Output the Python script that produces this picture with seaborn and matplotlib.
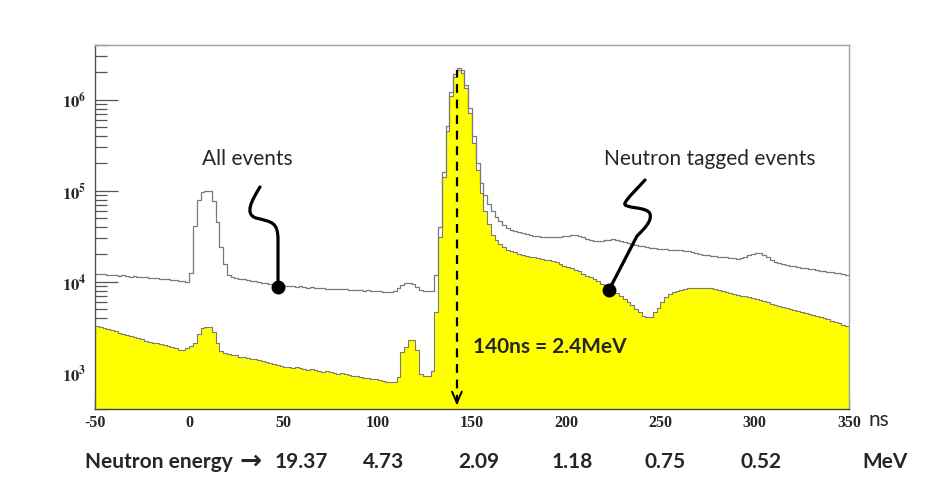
"""Time-of-flight spectrum: all events vs neutron tagged events."""

import matplotlib
matplotlib.use("Agg")
import matplotlib.pyplot as plt
from matplotlib.path import Path
from matplotlib.patches import PathPatch
from matplotlib.ticker import FixedLocator, MultipleLocator, LogLocator, NullFormatter
import numpy as np
import pandas as pd
import seaborn as sns

BIN_START = -50
BIN_WIDTH = 2

# counts per 2 ns bin, one line = 20 ns
all_events = [
    12200, 12100, 12150, 11900, 11950, 11800, 11700, 11750, 11500, 11400,      # -50..-30
    11450, 11300, 11200, 11150, 11000, 10900, 10950, 10700, 10600, 10650,      # -30..-10
    10500, 10400, 10300, 10200, 10000, 12500, 41000, 79000, 96000, 100000,     # -10..10
    99000, 77000, 45000, 24000, 15500, 11800, 11200, 11000, 10800, 10700,      # 10..30
    10500, 10300, 10100, 9900, 9800, 9600, 9500, 9300, 9200, 9100,             # 30..50
    9000, 9050, 8900, 8850, 8900, 8700, 8650, 8700, 8550, 8500,                # 50..70
    8550, 8400, 8350, 8400, 8300, 8250, 8300, 8150, 8100, 8150,                # 70..90
    8050, 8000, 8050, 7950, 7900, 7850, 7800, 7750, 7700, 7900,                # 90..110
    8600, 9300, 9600, 9700, 9400, 8700, 8200, 8000, 7900, 8000,                # 110..130
    12000, 40000, 162000, 520000, 1210000, 1900000, 2250000, 2100000, 1470000, 810000,  # 130..150
    400000, 204000, 122000, 91000, 71000, 60000, 51000, 46000, 42000, 39000,   # 150..170
    37500, 36500, 35500, 34500, 33500, 32800, 32200, 31700, 31300, 31200,      # 170..190
    31000, 31100, 31000, 31200, 31500, 32000, 32300, 32500, 32000, 31000,      # 190..210
    29500, 28500, 28000, 27800, 28200, 28700, 29000, 29200, 29000, 28300,      # 210..230
    27500, 26500, 25800, 25300, 25000, 24700, 24300, 23800, 23300, 23000,      # 230..250
    22800, 22700, 22600, 22500, 22400, 22200, 22000, 21700, 21300, 20800,      # 250..270
    20300, 19900, 19600, 19300, 19100, 18900, 18700, 18500, 18300, 18100,      # 270..290
    18000, 18100, 18600, 19500, 20300, 20800, 20600, 19700, 18500, 17400,      # 290..310
    16700, 16200, 15800, 15400, 15100, 14800, 14500, 14300, 14100, 13900,      # 310..330
    13700, 13500, 13300, 13100, 12900, 12700, 12500, 12400, 12200, 12000,      # 330..350
]

neutron_tagged = [
    3300, 3150, 3100, 3000, 2950, 2850, 2750, 2700, 2600, 2550,                # -50..-30
    2450, 2400, 2350, 2250, 2200, 2150, 2100, 2050, 2000, 1950,                # -30..-10
    1900, 1850, 1800, 1800, 1850, 1950, 2100, 2700, 3100, 3200,                # -10..10
    3150, 2800, 2100, 1750, 1650, 1600, 1580, 1550, 1500, 1480,                # 10..30
    1450, 1420, 1400, 1380, 1350, 1310, 1280, 1250, 1220, 1190,                # 30..50
    1170, 1150, 1140, 1150, 1120, 1100, 1080, 1090, 1060, 1040,                # 50..70
    1030, 1040, 1010, 990, 980, 990, 960, 940, 930, 920,                       # 70..90
    900, 880, 870, 860, 850, 840, 820, 800, 790, 800,                          # 90..110
    900, 1700, 1900, 2300, 2300, 1800, 960, 920, 920, 1050,                    # 110..130
    4600, 31000, 140000, 450000, 1100000, 1770000, 2100000, 1950000, 1340000, 720000,  # 130..150
    337000, 170000, 95000, 60000, 43000, 33000, 29000, 26000, 24000, 22500,    # 150..170
    21700, 21000, 20300, 19800, 19300, 18900, 18500, 18100, 17800, 17500,      # 170..190
    17200, 16800, 16300, 15700, 15100, 14600, 14100, 13600, 13000, 12300,      # 190..210
    11700, 11200, 10700, 10100, 9500, 9000, 8500, 8000, 7500, 7000,            # 210..230
    6500, 6000, 5500, 5000, 4600, 4250, 4100, 4150, 4600, 5200,                # 230..250
    6000, 6800, 7300, 7700, 7950, 8150, 8300, 8450, 8550, 8600,                # 250..270
    8650, 8650, 8600, 8500, 8350, 8150, 7950, 7700, 7450, 7250,                # 270..290
    7100, 7000, 6900, 6800, 6700, 6550, 6350, 6150, 5950, 5750,                # 290..310
    5550, 5400, 5250, 5150, 5000, 4900, 4800, 4650, 4550, 4450,                # 310..330
    4350, 4250, 4150, 4050, 3900, 3750, 3600, 3500, 3350, 3250,                # 330..350
]

x_ticks = [-50, 0, 50, 100, 150, 200, 250, 300, 350]
y_ticks = [1e3, 1e4, 1e5, 1e6]
y_labels = [r"$\mathbf{10^{3}}$", r"$\mathbf{10^{4}}$", r"$\mathbf{10^{5}}$", r"$\mathbf{10^{6}}$"]
energy_ns = [50, 100, 150, 200, 250, 300]
energy_mev = ["19.37", "4.73", "2.09", "1.18", "0.75", "0.52"]
energy_nudge_px = [18, 6, 7, 6, 5, 6]
marker_ns = 142

W, H = 945, 491
YELLOW = "#ffff00"
LINE_GREY = "#7a7a7a"
HAND = ["Lato", "DejaVu Sans"]


def px(x, y):
    """pixel position (from top-left) to figure fraction"""
    return (x / W, 1 - y / H)


def squiggle(fig, verts, codes):
    path = Path([px(*v) for v in verts], codes)
    fig.add_artist(PathPatch(path, transform=fig.transFigure, fill=False,
                             lw=2.3, ec="black", capstyle="round", joinstyle="round"))


def main() -> None:
    sns.set_style("white")
    plt.rcParams["font.family"] = HAND
    plt.rcParams["mathtext.fontset"] = "stix"

    n_bins = len(all_events)
    centers = BIN_START + BIN_WIDTH * (np.arange(n_bins) + 0.5)
    span = (BIN_START, BIN_START + BIN_WIDTH * n_bins)
    df = pd.DataFrame({"ns": centers, "all": all_events, "tagged": neutron_tagged})

    fig = plt.figure(figsize=(W / 100, H / 100), dpi=100)
    ax = fig.add_axes([95 / W, 1 - 409 / H, 754 / W, 364 / H])

    sns.histplot(data=df, x="ns", weights="tagged", binwidth=BIN_WIDTH, binrange=span,
                 element="step", fill=True, color=YELLOW, alpha=1,
                 edgecolor=LINE_GREY, linewidth=0.8, ax=ax)
    sns.histplot(data=df, x="ns", weights="all", binwidth=BIN_WIDTH, binrange=span,
                 element="step", fill=False, color=LINE_GREY, linewidth=0.9, ax=ax)

    ax.set_yscale("log")
    ax.set_xlim(-50, 350)
    ax.set_ylim(400, 4.0e6)
    ax.set_xlabel("")
    ax.set_ylabel("")

    ax.xaxis.set_major_locator(FixedLocator(x_ticks))
    ax.xaxis.set_minor_locator(MultipleLocator(10))
    ax.set_xticklabels([str(t) for t in x_ticks], fontfamily="Liberation Serif",
                       fontweight="bold", fontsize=11.5)
    ax.yaxis.set_major_locator(FixedLocator(y_ticks))
    ax.yaxis.set_minor_locator(LogLocator(base=10, subs=np.arange(2, 10)))
    ax.yaxis.set_minor_formatter(NullFormatter())
    ax.set_yticklabels(y_labels, fontsize=12)

    ax.tick_params(bottom=True, left=True, which="both")
    ax.tick_params(axis="x", which="major", direction="in", length=8, width=0.9,
                   color="#333333", pad=4)
    ax.tick_params(axis="x", which="minor", direction="in", length=4.3, width=0.9,
                   color="#333333")
    ax.tick_params(axis="y", which="major", direction="in", length=16.5, width=0.9,
                   color="#555555", pad=6)
    ax.tick_params(axis="y", which="minor", direction="in", length=8.6, width=0.9,
                   color="#555555")
    for side, col in [("left", "#555555"), ("bottom", "#444444"),
                      ("top", "#a0a0a0"), ("right", "#a0a0a0")]:
        ax.spines[side].set_color(col)
        ax.spines[side].set_linewidth(1.0)

    # dashed marker at the gamma flash
    ax.vlines(marker_ns, 450, 2.1e6, colors="black", linestyles=(0, (4, 3)), lw=1.6)
    ax.annotate("", xy=(marker_ns, 410), xytext=(marker_ns, 600),
                arrowprops=dict(arrowstyle="->,head_length=0.8,head_width=0.35",
                                color="black", lw=1.4))
    fig.text(*px(473, 347), "140ns = 2.4MeV", fontsize=15, fontweight="bold",
             va="center", ha="left")

    fig.text(*px(247, 159), "All events", fontsize=15, ha="center", va="center")
    fig.text(*px(710, 159), "Neutron tagged events", fontsize=15, ha="center", va="center")

    C4 = Path.CURVE4
    squiggle(fig,
             [(260, 187), (252, 200), (244, 214), (256, 218),
              (272, 222), (278, 222), (278, 240), (278, 287)],
             [Path.MOVETO, C4, C4, C4, C4, C4, C4, Path.LINETO])
    squiggle(fig,
             [(645, 180), (637, 189), (628, 197), (625, 203),
              (622, 209), (648, 206), (650, 214),
              (652, 221), (645, 228), (637, 236), (609, 290)],
             [Path.MOVETO, C4, C4, C4, C4, C4, C4, C4, C4, C4, Path.LINETO])
    for dx, dy in [(278, 287), (609, 290)]:
        fig.add_artist(plt.Line2D([dx / W], [1 - dy / H], marker="o", ms=9,
                                  color="black", transform=fig.transFigure))

    # axis unit and energy conversion row
    fig.text(*px(869, 420), "ns", fontsize=15, ha="left", va="center")
    y_energy = 1 - 462 / H
    for ns, lab, nudge in zip(energy_ns, energy_mev, energy_nudge_px):
        xf = (95 + (ns + 50) / 400 * 754 + nudge) / W
        fig.text(xf, y_energy, lab, fontsize=15, fontweight="bold",
                 ha="center", va="center")
    fig.text(85 / W, y_energy, "Neutron energy", fontsize=15, fontweight="bold",
             ha="left", va="center")
    fig.text(251 / W, y_energy, "\u2192", fontsize=19, fontweight="bold",
             family="DejaVu Sans", ha="center", va="center")
    fig.text(885 / W, y_energy, "MeV", fontsize=15, fontweight="bold",
             ha="center", va="center")

    fig.savefig("out.png", dpi=100)
    plt.close(fig)


if __name__ == "__main__":
    main()
